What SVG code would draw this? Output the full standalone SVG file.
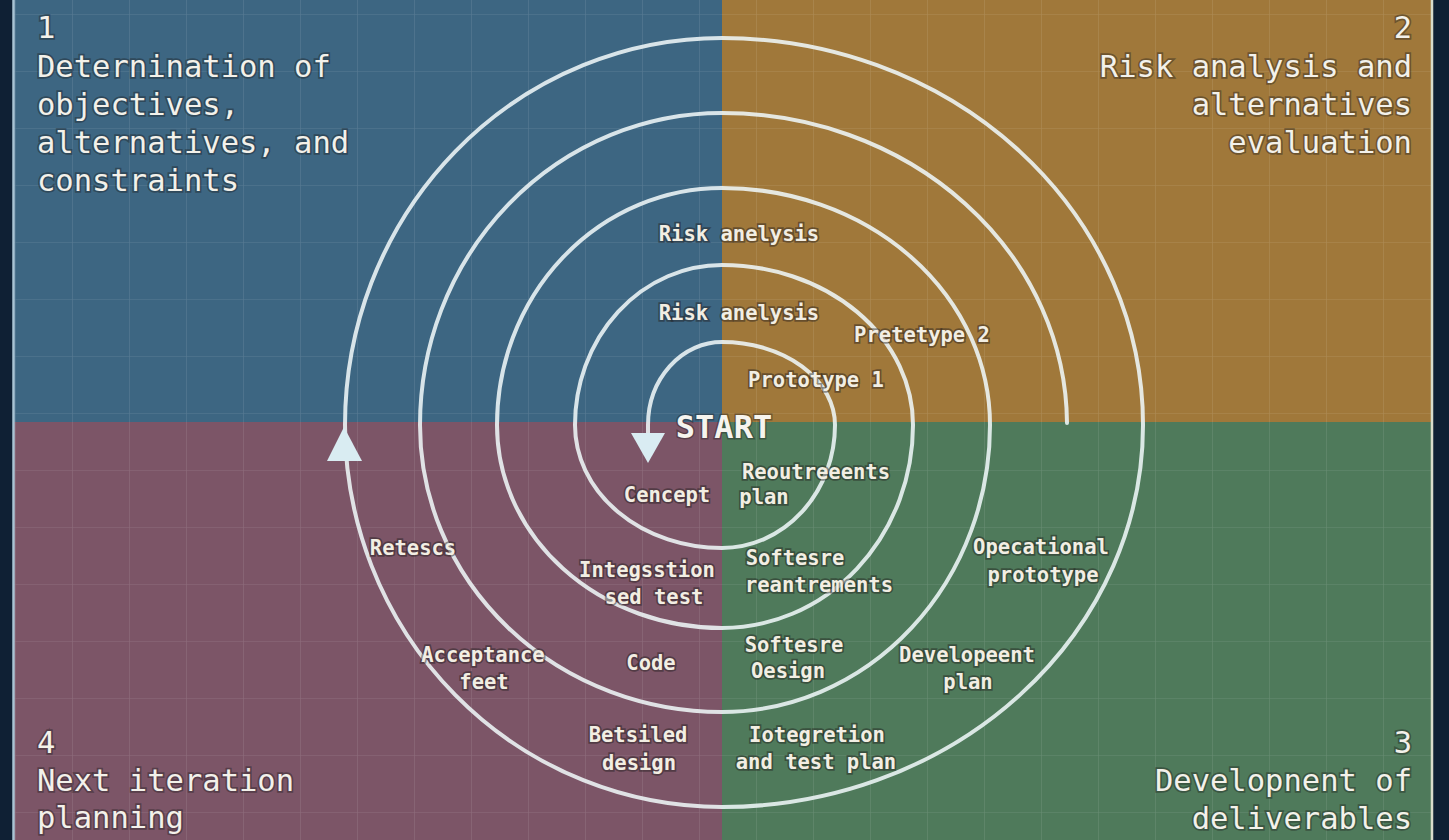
<svg xmlns="http://www.w3.org/2000/svg" width="1449" height="840" viewBox="0 0 1449 840">
  <defs>
    <pattern id="grid" x="15" y="14" width="57" height="57" patternUnits="userSpaceOnUse">
      <path d="M 0 0 L 0 57 M 0 0 L 57 0" fill="none" stroke="#ffffff" stroke-opacity="0.14" stroke-width="1.2"/>
    </pattern>
    <style>
      .corner { font-family: "DejaVu Sans Mono", "Liberation Mono", monospace; font-size: 30.5px; fill: #f3f1ea; stroke: #1a1a1a; stroke-opacity: 0.4; stroke-width: 3.5px; paint-order: stroke; }
      .lbl { font-family: "DejaVu Sans Mono", "Liberation Mono", monospace; font-size: 20.5px; font-weight: bold; fill: #f2eee3; stroke: #1e1a1a; stroke-opacity: 0.45; stroke-width: 3.5px; paint-order: stroke; text-anchor: middle; }
      .start { font-family: "DejaVu Sans Mono", "Liberation Mono", monospace; font-size: 32px; font-weight: bold; fill: #f6f4ee; stroke: #1e1a1a; stroke-opacity: 0.4; stroke-width: 3px; paint-order: stroke; text-anchor: middle; }
      .ring { fill: none; stroke: #eef6f7; stroke-opacity: 0.88; stroke-width: 4; stroke-linecap: round; }
      .head { fill: #d9ecf2; }
    </style>
  </defs>

  <!-- frame -->
  <rect x="0" y="0" width="1449" height="840" fill="#0f2034"/>

  <!-- quadrants -->
  <g id="quadrants">
    <rect x="13" y="0" width="709" height="422" fill="#3d6682"/>
    <rect x="722" y="0" width="711" height="422" fill="#a0783a"/>
    <rect x="13" y="422" width="709" height="418" fill="#7c5567"/>
    <rect x="722" y="422" width="711" height="418" fill="#4f7a5b"/>
    <rect x="13" y="0" width="1420" height="840" fill="url(#grid)"/>
    <line x1="13.5" y1="0" x2="13.5" y2="840" stroke="#a9c3d3" stroke-width="2.5"/>
    <line x1="1432" y1="0" x2="1432" y2="840" stroke="#d9dccb" stroke-width="2.5"/>
  </g>

  <!-- spiral connectors -->
  <g id="connectors">
    <path class="ring" d="M 648 436 L 648 425 A 74 83 0 0 1 722 342 A 113 83 0 0 1 835 425 A 113 123 0 0 1 722 548 A 147 123 0 0 1 575 425 A 147 160 0 0 1 722 265 A 191 160 0 0 1 913 425 A 191 203 0 0 1 722 628 A 225 203 0 0 1 497 425 A 225 237 0 0 1 722 188 A 268 237 0 0 1 990 425 A 268 287 0 0 1 722 712 A 302 287 0 0 1 420 425 A 302 312 0 0 1 722 113 A 345 312 0 0 1 1067 423"/>
    <path class="ring" d="M 345 425 A 377 387 0 0 1 722 38 A 421 387 0 0 1 1143 425 A 421 382 0 0 1 722 807 A 377 382 0 0 1 345 425 Z"/>
    <polygon class="head" points="631,433 665,433 648,463"/>
    <polygon class="head" points="344,427 327,461 362,461"/>
  </g>

  <!-- quadrant titles -->
  <g id="q1">
    <text class="corner" x="37" y="38">1</text>
    <text class="corner" x="37" y="77">Deternination of</text>
    <text class="corner" x="37" y="115">objectives,</text>
    <text class="corner" x="37" y="153">alternatives, and</text>
    <text class="corner" x="37" y="191">constraints</text>
  </g>
  <g id="q2" text-anchor="end">
    <text class="corner" x="1412" y="38">2</text>
    <text class="corner" x="1412" y="77">Risk analysis and</text>
    <text class="corner" x="1412" y="115">alternatives</text>
    <text class="corner" x="1412" y="153">evaluation</text>
  </g>
  <g id="q3" text-anchor="end">
    <text class="corner" x="1412" y="753">3</text>
    <text class="corner" x="1412" y="791">Developnent of</text>
    <text class="corner" x="1412" y="829">deliverables</text>
  </g>
  <g id="q4">
    <text class="corner" x="37" y="753">4</text>
    <text class="corner" x="37" y="791">Next iteration</text>
    <text class="corner" x="37" y="828">planning</text>
  </g>

  <!-- activity labels -->
  <g id="start"><text class="start" x="724" y="438">START</text></g>
  <g id="risk-1"><text class="lbl" x="739" y="241">Risk anelysis</text></g>
  <g id="risk-2"><text class="lbl" x="739" y="320">Risk anelysis</text></g>
  <g id="prototype-2"><text class="lbl" x="922" y="342">Pretetype 2</text></g>
  <g id="prototype-1"><text class="lbl" x="816" y="387">Prototype 1</text></g>
  <g id="req-plan">
    <text class="lbl" x="816" y="479">Reoutreeents</text>
    <text class="lbl" x="764" y="504">plan</text>
  </g>
  <g id="concept"><text class="lbl" x="667" y="502">Cencept</text></g>
  <g id="release"><text class="lbl" x="413" y="555">Retescs</text></g>
  <g id="integration-test">
    <text class="lbl" x="647" y="577">Integsstion</text>
    <text class="lbl" x="654" y="604">sed test</text>
  </g>
  <g id="sw-requirements">
    <text class="lbl" x="795" y="565">Softesre</text>
    <text class="lbl" x="819" y="592">reantrements</text>
  </g>
  <g id="operational-prototype">
    <text class="lbl" x="1041" y="554">Opecational</text>
    <text class="lbl" x="1043" y="582">prototype</text>
  </g>
  <g id="acceptance-test">
    <text class="lbl" x="483" y="662">Acceptance</text>
    <text class="lbl" x="484" y="689">feet</text>
  </g>
  <g id="code"><text class="lbl" x="651" y="670">Code</text></g>
  <g id="sw-design">
    <text class="lbl" x="794" y="652">Softesre</text>
    <text class="lbl" x="788" y="678">Oesign</text>
  </g>
  <g id="dev-plan">
    <text class="lbl" x="967" y="662">Developeent</text>
    <text class="lbl" x="968" y="689">plan</text>
  </g>
  <g id="detailed-design">
    <text class="lbl" x="638" y="742">Betsiled</text>
    <text class="lbl" x="639" y="770">design</text>
  </g>
  <g id="integration-plan">
    <text class="lbl" x="817" y="742">Iotegretion</text>
    <text class="lbl" x="816" y="769">and test plan</text>
  </g>
</svg>
